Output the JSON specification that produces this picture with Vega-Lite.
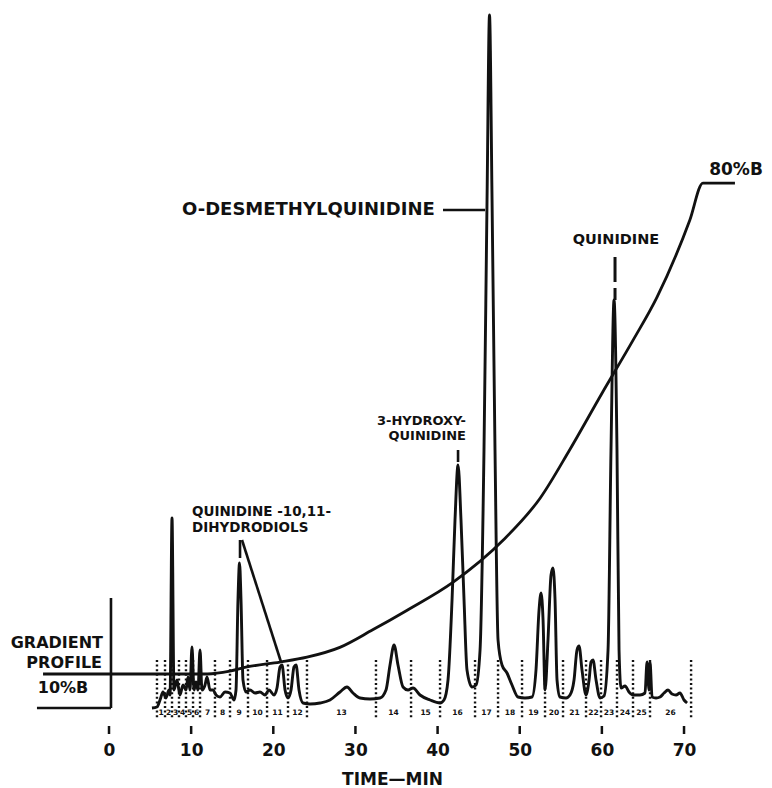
{
 "$schema": "https://vega.github.io/schema/vega-lite/v6.json",
 "width": 772, "height": 734,
 "autosize": {"type": "none"},
 "padding": {"left": 0, "top": 0, "right": 0, "bottom": 54},
 "background": "white",
 "config": {"view": {"stroke": null}, "font": "DejaVu Sans", "text": {"font": "DejaVu Sans", "fontWeight": "bold", "color": "#111", "baseline": "middle"}},
 "datasets": {
  "trace": [
   {"t":5.23,"y":0},{"t":5.84,"y":1},{"t":6.21,"y":8},{"t":6.57,"y":16},{"t":6.94,"y":10},{"t":7.30,"y":18},{"t":7.43,"y":13},{"t":7.67,"y":190},{"t":7.91,"y":18},{"t":8.28,"y":28},{"t":8.64,"y":13},{"t":9.01,"y":23},{"t":9.37,"y":18},{"t":9.62,"y":31},{"t":9.86,"y":18},{"t":10.10,"y":61},{"t":10.35,"y":18},{"t":10.59,"y":26},{"t":10.83,"y":18},{"t":11.08,"y":58},{"t":11.32,"y":18},{"t":11.69,"y":23},{"t":11.93,"y":31},{"t":12.30,"y":18},{"t":12.66,"y":18},{"t":13.03,"y":13},{"t":13.51,"y":11},{"t":14.12,"y":16},{"t":14.73,"y":15},{"t":15.22,"y":8},{"t":15.46,"y":18},{"t":15.70,"y":108},{"t":15.89,"y":145},{"t":16.07,"y":108},{"t":16.31,"y":28},{"t":16.68,"y":16},{"t":17.17,"y":18},{"t":17.77,"y":15},{"t":18.38,"y":16},{"t":18.99,"y":13},{"t":19.48,"y":18},{"t":20.09,"y":13},{"t":20.45,"y":20},{"t":20.82,"y":41},{"t":21.06,"y":43},{"t":21.43,"y":18},{"t":21.79,"y":10},{"t":22.16,"y":18},{"t":22.52,"y":41},{"t":22.77,"y":43},{"t":23.13,"y":18},{"t":23.62,"y":5},{"t":24.47,"y":4},{"t":25.69,"y":5},{"t":26.90,"y":8},{"t":28.12,"y":16},{"t":28.97,"y":21},{"t":29.70,"y":15},{"t":30.56,"y":10},{"t":31.77,"y":9},{"t":32.99,"y":10},{"t":33.72,"y":18},{"t":34.21,"y":43},{"t":34.70,"y":63},{"t":35.18,"y":43},{"t":35.79,"y":21},{"t":36.40,"y":18},{"t":37.01,"y":20},{"t":37.86,"y":13},{"t":39.08,"y":8},{"t":40.30,"y":5},{"t":40.78,"y":8},{"t":41.27,"y":28},{"t":41.76,"y":108},{"t":42.12,"y":188},{"t":42.49,"y":243},{"t":42.85,"y":188},{"t":43.22,"y":108},{"t":43.58,"y":38},{"t":44.19,"y":21},{"t":44.68,"y":23},{"t":45.17,"y":58},{"t":45.65,"y":258},{"t":46.02,"y":508},{"t":46.32,"y":693},{"t":46.63,"y":508},{"t":46.99,"y":258},{"t":47.36,"y":68},{"t":47.84,"y":43},{"t":48.45,"y":35},{"t":49.06,"y":23},{"t":49.79,"y":11},{"t":50.64,"y":10},{"t":51.50,"y":11},{"t":51.98,"y":38},{"t":52.35,"y":98},{"t":52.59,"y":115},{"t":52.84,"y":88},{"t":53.08,"y":18},{"t":53.44,"y":68},{"t":53.81,"y":133},{"t":54.05,"y":140},{"t":54.30,"y":108},{"t":54.54,"y":28},{"t":54.90,"y":11},{"t":55.64,"y":10},{"t":56.12,"y":13},{"t":56.61,"y":28},{"t":56.97,"y":58},{"t":57.22,"y":62},{"t":57.58,"y":38},{"t":58.07,"y":13},{"t":58.44,"y":28},{"t":58.68,"y":46},{"t":58.92,"y":48},{"t":59.29,"y":28},{"t":59.77,"y":10},{"t":60.26,"y":12},{"t":60.75,"y":58},{"t":61.11,"y":258},{"t":61.48,"y":408},{"t":61.84,"y":258},{"t":62.09,"y":58},{"t":62.33,"y":20},{"t":62.82,"y":22},{"t":63.30,"y":16},{"t":63.79,"y":13},{"t":64.64,"y":13},{"t":65.25,"y":15},{"t":65.50,"y":46},{"t":65.74,"y":18},{"t":65.86,"y":46},{"t":66.11,"y":11},{"t":66.59,"y":10},{"t":67.08,"y":11},{"t":67.57,"y":15},{"t":68.05,"y":18},{"t":68.54,"y":14},{"t":69.03,"y":13},{"t":69.51,"y":15},{"t":70.00,"y":8},{"t":70.37,"y":5}
  ],
  "gradient": [
   {"t":-8.03,"b":10},{"t":0,"b":10},{"t":12,"b":10},{"t":14.7,"b":10.4},{"t":16.8,"b":11.0},{"t":20.8,"b":11.7},{"t":24.1,"b":12.4},{"t":28.1,"b":13.8},{"t":32.1,"b":16.3},{"t":36.3,"b":19.1},{"t":41.9,"b":23.1},{"t":48.0,"b":29.1},{"t":52.5,"b":35.1},{"t":56.0,"b":41.8},{"t":60.0,"b":50.0},{"t":63.8,"b":57.6},{"t":66.7,"b":63.7},{"t":70.7,"b":74.7},{"t":72.3,"b":80},{"t":76.2,"b":80}
  ],
  "fractions": [
   {"t":5.84},{"t":6.82},{"t":7.67},{"t":8.52},{"t":9.37},{"t":10.23},{"t":11.08},{"t":12.90},{"t":14.73},{"t":16.92},{"t":19.24},{"t":21.79},{"t":24.10},{"t":32.50},{"t":36.77},{"t":40.30},{"t":44.56},{"t":47.36},{"t":50.28},{"t":53.08},{"t":55.27},{"t":58.07},{"t":59.90},{"t":61.84},{"t":63.79},{"t":65.86},{"t":70.86}
  ],
  "fractionLabels": [
   {"t":6.33,"text":"1"},{"t":7.25,"text":"2"},{"t":8.1,"text":"3"},{"t":8.95,"text":"4"},{"t":9.8,"text":"5"},{"t":10.66,"text":"6"},{"t":11.99,"text":"7"},{"t":13.82,"text":"8"},{"t":15.83,"text":"9"},{"t":18.08,"text":"10"},{"t":20.52,"text":"11"},{"t":22.95,"text":"12"},{"t":28.3,"text":"13"},{"t":34.64,"text":"14"},{"t":38.54,"text":"15"},{"t":42.43,"text":"16"},{"t":45.96,"text":"17"},{"t":48.82,"text":"18"},{"t":51.68,"text":"19"},{"t":54.18,"text":"20"},{"t":56.67,"text":"21"},{"t":58.99,"text":"22"},{"t":60.87,"text":"23"},{"t":62.82,"text":"24"},{"t":64.83,"text":"25"},{"t":68.36,"text":"26"}
  ],
  "ticks": [{"t":0},{"t":10},{"t":20},{"t":30},{"t":40},{"t":50},{"t":60},{"t":70}],
  "pointers": [
   {"t":40.66,"y":498,"t2":45.78,"y2":498},
   {"t":16.19,"y":168,"t2":20.94,"y2":46},
   {"t":15.95,"y":168,"t2":15.95,"y2":150},
   {"t":42.49,"y":258,"t2":42.49,"y2":246},
   {"t":0.24,"y":0,"t2":0.24,"y2":110},
   {"t":-8.77,"y":0,"t2":0.24,"y2":0}
  ],
  "dashedPointers": [{"t":61.6,"y":451,"t2":61.6,"y2":408}],
  "textRight16": [{"t":-0.73,"y":65,"text":"GRADIENT"},{"t":-0.85,"y":45,"text":"PROFILE"}],
  "textCenter16": [{"t":-5.6,"y":20,"text":"10%B"}],
  "textLeft13": [{"t":10.10,"y":196,"text":"QUINIDINE -10,11-"},{"t":10.10,"y":180,"text":"DIHYDRODIOLS"}],
  "textLeft18": [{"t":8.89,"y":498,"text":"O-DESMETHYLQUINIDINE"}],
  "textRight13": [{"t":43.46,"y":287,"text":"3-HYDROXY-"},{"t":43.46,"y":272,"text":"QUINIDINE"}],
  "textCenter14": [{"t":61.72,"y":468,"text":"QUINIDINE"}],
  "textCenter17": [{"t":76.33,"y":538,"text":"80%B"}]
 },
 "resolve": {"scale": {"y": "independent"}},
 "encoding": {
  "x": {"field": "t", "type": "quantitative", "scale": {"domain": [-13.27, 80.71]},
   "axis": {"values": [0,10,20,30,40,50,60,70], "domain": false, "ticks": false, "tickSize": 0, "grid": false,
    "labelFont": "DejaVu Sans", "labelFontWeight": "bold", "labelFontSize": 17, "labelColor": "#111",
    "labelPadding": 16, "labelBaseline": "middle", "labelFlush": false, "labelOverlap": false,
    "title": "TIME—MIN", "titleFont": "DejaVu Sans", "titleFontWeight": "bold", "titleFontSize": 17, "titleColor": "#111",
    "titleX": 392, "titleY": 45, "titleBaseline": "middle", "titleAlign": "center"}}
 },
 "layer": [
  {"data": {"name": "gradient"}, "mark": {"type": "line", "stroke": "#111", "strokeWidth": 2.8, "interpolate": "monotone"},
   "encoding": {"y": {"field": "b", "type": "quantitative", "scale": {"domain": [1.446, 106.1]}, "axis": null}}},
  {"data": {"name": "trace"}, "mark": {"type": "line", "stroke": "#111", "strokeWidth": 2.9, "interpolate": "monotone"},
   "encoding": {"y": {"field": "y", "type": "quantitative", "scale": {"domain": [-26, 708]}, "axis": null}}},
  {"data": {"name": "fractions"}, "mark": {"type": "rule", "stroke": "#111", "strokeWidth": 2.4, "strokeDash": [2, 2.6]},
   "encoding": {"y": {"datum": 48, "type": "quantitative", "scale": {"domain": [-26, 708]}, "axis": null}, "y2": {"datum": -10}}},
  {"data": {"values": [{}]}, "mark": {"type": "rule", "stroke": "#111", "strokeWidth": 2.2},
   "encoding": {"x": {"datum": 5.84, "type": "quantitative"}, "x2": {"datum": 70.86}, "y": {"datum": -12, "type": "quantitative", "scale": {"domain": [-26, 708]}, "axis": null}}},
  {"data": {"name": "fractionLabels"}, "mark": {"type": "text", "fontSize": 7.5, "align": "center"},
   "encoding": {"text": {"field": "text"}, "y": {"datum": -5, "type": "quantitative", "scale": {"domain": [-26, 708]}, "axis": null}}},
  {"data": {"values": [{}]}, "mark": {"type": "rule", "stroke": "#111", "strokeWidth": 3},
   "encoding": {"x": {"datum": 0, "type": "quantitative"}, "x2": {"datum": 70}, "y": {"datum": -26, "type": "quantitative", "scale": {"domain": [-26, 708]}, "axis": null}}},
  {"data": {"name": "ticks"}, "mark": {"type": "rule", "stroke": "#111", "strokeWidth": 2.5},
   "encoding": {"y": {"datum": -26, "type": "quantitative", "scale": {"domain": [-26, 708]}, "axis": null}, "y2": {"datum": -18}}},
  {"data": {"name": "pointers"}, "mark": {"type": "rule", "stroke": "#111", "strokeWidth": 2.6},
   "encoding": {"x2": {"field": "t2"}, "y": {"field": "y", "type": "quantitative", "scale": {"domain": [-26, 708]}, "axis": null}, "y2": {"field": "y2"}}},
  {"data": {"name": "dashedPointers"}, "mark": {"type": "rule", "stroke": "#111", "strokeWidth": 3, "strokeDash": [25, 6]},
   "encoding": {"x2": {"field": "t2"}, "y": {"field": "y", "type": "quantitative", "scale": {"domain": [-26, 708]}, "axis": null}, "y2": {"field": "y2"}}},
  {"data": {"name": "textRight16"}, "mark": {"type": "text", "fontSize": 16, "align": "right"},
   "encoding": {"text": {"field": "text"}, "y": {"field": "y", "type": "quantitative", "scale": {"domain": [-26, 708]}, "axis": null}}},
  {"data": {"name": "textCenter16"}, "mark": {"type": "text", "fontSize": 16, "align": "center"},
   "encoding": {"text": {"field": "text"}, "y": {"field": "y", "type": "quantitative", "scale": {"domain": [-26, 708]}, "axis": null}}},
  {"data": {"name": "textLeft13"}, "mark": {"type": "text", "fontSize": 13.5, "align": "left"},
   "encoding": {"text": {"field": "text"}, "y": {"field": "y", "type": "quantitative", "scale": {"domain": [-26, 708]}, "axis": null}}},
  {"data": {"name": "textLeft18"}, "mark": {"type": "text", "fontSize": 18, "align": "left"},
   "encoding": {"text": {"field": "text"}, "y": {"field": "y", "type": "quantitative", "scale": {"domain": [-26, 708]}, "axis": null}}},
  {"data": {"name": "textRight13"}, "mark": {"type": "text", "fontSize": 13, "align": "right"},
   "encoding": {"text": {"field": "text"}, "y": {"field": "y", "type": "quantitative", "scale": {"domain": [-26, 708]}, "axis": null}}},
  {"data": {"name": "textCenter14"}, "mark": {"type": "text", "fontSize": 14.5, "align": "center"},
   "encoding": {"text": {"field": "text"}, "y": {"field": "y", "type": "quantitative", "scale": {"domain": [-26, 708]}, "axis": null}}},
  {"data": {"name": "textCenter17"}, "mark": {"type": "text", "fontSize": 17, "align": "center"},
   "encoding": {"text": {"field": "text"}, "y": {"field": "y", "type": "quantitative", "scale": {"domain": [-26, 708]}, "axis": null}}}
 ]
}
